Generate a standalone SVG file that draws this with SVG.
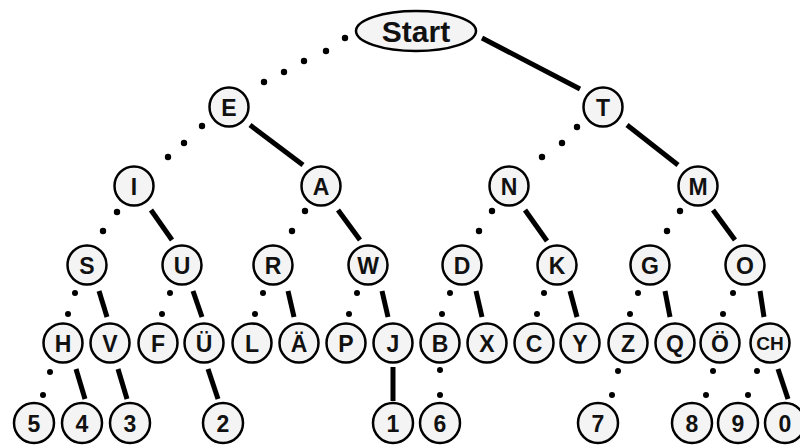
<svg xmlns="http://www.w3.org/2000/svg" width="800" height="445" viewBox="0 0 800 445">
<style>
.n{fill:#f4f4f4;stroke:#000;stroke-width:2.5}
.t{font-family:"Liberation Sans",Arial,sans-serif;font-weight:bold;font-size:23px;text-anchor:middle;fill:#111}
.t.s{font-size:19px}
.dah{stroke:#000;stroke-width:5;fill:none}
.dit{fill:#000}
</style>
<rect width="800" height="445" fill="#fff"/>
<g id="connectors">
<g class="dit">
<circle cx="345" cy="38" r="3.2"/><circle cx="326" cy="51" r="3.2"/><circle cx="304" cy="61" r="3.2"/><circle cx="284" cy="72" r="3.2"/><circle cx="264" cy="82" r="3.2"/>
<circle cx="202" cy="126" r="3.2"/><circle cx="184" cy="143" r="3.2"/><circle cx="168" cy="157" r="3.2"/>
<circle cx="577" cy="127" r="3.2"/><circle cx="562" cy="143" r="3.2"/><circle cx="542" cy="157" r="3.2"/>
<circle cx="117" cy="212" r="3.2"/><circle cx="103" cy="231" r="3.2"/>
<circle cx="305" cy="211" r="3.2"/><circle cx="292" cy="231" r="3.2"/>
<circle cx="492" cy="211" r="3.2"/><circle cx="479" cy="231" r="3.2"/>
<circle cx="680" cy="211" r="3.2"/><circle cx="667" cy="231" r="3.2"/>
<circle cx="75" cy="293" r="3"/><circle cx="68" cy="314" r="3"/>
<circle cx="170" cy="293" r="3"/><circle cx="162" cy="314" r="3"/>
<circle cx="263" cy="293" r="3"/><circle cx="255" cy="314" r="3"/>
<circle cx="357" cy="293" r="3"/><circle cx="349" cy="314" r="3"/>
<circle cx="450" cy="293" r="3"/><circle cx="442" cy="314" r="3"/>
<circle cx="544" cy="293" r="3"/><circle cx="537" cy="314" r="3"/>
<circle cx="638" cy="293" r="3"/><circle cx="630" cy="314" r="3"/>
<circle cx="733" cy="293" r="3"/><circle cx="723" cy="314" r="3"/>
<circle cx="50" cy="372" r="3"/><circle cx="43" cy="395" r="3"/>
<circle cx="440" cy="370" r="3"/><circle cx="440" cy="395" r="3"/>
<circle cx="618" cy="371" r="3"/><circle cx="612" cy="395" r="3"/>
<circle cx="713" cy="371" r="3"/><circle cx="706" cy="395" r="3"/>
<circle cx="757" cy="371" r="3"/><circle cx="748" cy="395" r="3"/>
</g>
<g class="dah">
<line x1="482" y1="38" x2="580" y2="89"/>
<line x1="250" y1="125" x2="303" y2="165"/>
<line x1="627" y1="125" x2="678" y2="165"/>
<line x1="151" y1="210" x2="172" y2="240"/>
<line x1="338" y1="210" x2="360" y2="240"/>
<line x1="525" y1="210" x2="547" y2="241"/>
<line x1="713" y1="210" x2="735" y2="240"/>
<line x1="99" y1="291" x2="107" y2="317"/>
<line x1="193" y1="291" x2="202" y2="317"/>
<line x1="288" y1="291" x2="294" y2="317"/>
<line x1="382" y1="291" x2="388" y2="317"/>
<line x1="476" y1="291" x2="482" y2="317"/>
<line x1="570" y1="291" x2="577" y2="317"/>
<line x1="665" y1="291" x2="670" y2="317"/>
<line x1="760" y1="291" x2="764" y2="317"/>
<line x1="76" y1="369" x2="85" y2="399"/>
<line x1="118" y1="369" x2="127" y2="399"/>
<line x1="208" y1="369" x2="218" y2="399"/>
<line x1="393" y1="367" x2="393" y2="401"/>
<line x1="778" y1="369" x2="788" y2="399"/>
</g>
</g>
<g id="node-start"><ellipse class="n" cx="416" cy="31" rx="60" ry="20"/><text class="t" x="416" y="42" style="font-size:30px">Start</text></g>
<g id="node-E"><circle class="n" cx="229" cy="107" r="19.5"/><text class="t" x="229" y="115.5">E</text></g>
<g id="node-T"><circle class="n" cx="603" cy="107" r="19.5"/><text class="t" x="603" y="115.5">T</text></g>
<g id="node-I"><circle class="n" cx="134" cy="186" r="19.5"/><text class="t" x="134" y="194.5">I</text></g>
<g id="node-A"><circle class="n" cx="321" cy="186" r="19.5"/><text class="t" x="321" y="194.5">A</text></g>
<g id="node-N"><circle class="n" cx="509" cy="186" r="19.5"/><text class="t" x="509" y="194.5">N</text></g>
<g id="node-M"><circle class="n" cx="698" cy="186" r="19.5"/><text class="t" x="698" y="194.5">M</text></g>
<g id="node-S"><circle class="n" cx="87" cy="265" r="19.5"/><text class="t" x="87" y="273.5">S</text></g>
<g id="node-U"><circle class="n" cx="182" cy="265" r="19.5"/><text class="t" x="182" y="273.5">U</text></g>
<g id="node-R"><circle class="n" cx="273" cy="265" r="19.5"/><text class="t" x="273" y="273.5">R</text></g>
<g id="node-W"><circle class="n" cx="368" cy="265" r="19.5"/><text class="t" x="368" y="273.5">W</text></g>
<g id="node-D"><circle class="n" cx="462" cy="265" r="19.5"/><text class="t" x="462" y="273.5">D</text></g>
<g id="node-K"><circle class="n" cx="557" cy="265" r="19.5"/><text class="t" x="557" y="273.5">K</text></g>
<g id="node-G"><circle class="n" cx="650" cy="265" r="19.5"/><text class="t" x="650" y="273.5">G</text></g>
<g id="node-O"><circle class="n" cx="745" cy="265" r="19.5"/><text class="t" x="745" y="273.5">O</text></g>
<g id="node-H"><circle class="n" cx="63" cy="343" r="19.5"/><text class="t" x="63" y="351.5">H</text></g>
<g id="node-V"><circle class="n" cx="110" cy="343" r="19.5"/><text class="t" x="110" y="351.5">V</text></g>
<g id="node-F"><circle class="n" cx="158" cy="343" r="19.5"/><text class="t" x="158" y="351.5">F</text></g>
<g id="node-UE"><circle class="n" cx="204" cy="343" r="19.5"/><text class="t" x="204" y="351.5">Ü</text></g>
<g id="node-L"><circle class="n" cx="252" cy="343" r="19.5"/><text class="t" x="252" y="351.5">L</text></g>
<g id="node-AE"><circle class="n" cx="299" cy="343" r="19.5"/><text class="t" x="299" y="351.5">Ä</text></g>
<g id="node-P"><circle class="n" cx="346" cy="343" r="19.5"/><text class="t" x="346" y="351.5">P</text></g>
<g id="node-J"><circle class="n" cx="393" cy="343" r="19.5"/><text class="t" x="393" y="351.5">J</text></g>
<g id="node-B"><circle class="n" cx="440" cy="343" r="19.5"/><text class="t" x="440" y="351.5">B</text></g>
<g id="node-X"><circle class="n" cx="487" cy="343" r="19.5"/><text class="t" x="487" y="351.5">X</text></g>
<g id="node-C"><circle class="n" cx="534" cy="343" r="19.5"/><text class="t" x="534" y="351.5">C</text></g>
<g id="node-Y"><circle class="n" cx="580" cy="343" r="19.5"/><text class="t" x="580" y="351.5">Y</text></g>
<g id="node-Z"><circle class="n" cx="628" cy="343" r="19.5"/><text class="t" x="628" y="351.5">Z</text></g>
<g id="node-Q"><circle class="n" cx="675" cy="343" r="19.5"/><text class="t" x="675" y="351.5">Q</text></g>
<g id="node-OE"><circle class="n" cx="720" cy="343" r="19.5"/><text class="t" x="720" y="351.5">Ö</text></g>
<g id="node-CH"><circle class="n" cx="770" cy="343" r="19.5"/><text class="t s" x="770" y="350">CH</text></g>
<g id="node-5"><circle class="n" cx="34" cy="423" r="20"/><text class="t" x="34" y="431.5">5</text></g>
<g id="node-4"><circle class="n" cx="82" cy="423" r="20"/><text class="t" x="82" y="431.5">4</text></g>
<g id="node-3"><circle class="n" cx="130" cy="423" r="20"/><text class="t" x="130" y="431.5">3</text></g>
<g id="node-2"><circle class="n" cx="223" cy="423" r="20"/><text class="t" x="223" y="431.5">2</text></g>
<g id="node-1"><circle class="n" cx="393" cy="423" r="20"/><text class="t" x="393" y="431.5">1</text></g>
<g id="node-6"><circle class="n" cx="440" cy="423" r="20"/><text class="t" x="440" y="431.5">6</text></g>
<g id="node-7"><circle class="n" cx="598" cy="423" r="20"/><text class="t" x="598" y="431.5">7</text></g>
<g id="node-8"><circle class="n" cx="692" cy="423" r="20"/><text class="t" x="692" y="431.5">8</text></g>
<g id="node-9"><circle class="n" cx="738" cy="423" r="20"/><text class="t" x="738" y="431.5">9</text></g>
<g id="node-0"><circle class="n" cx="785" cy="423" r="20"/><text class="t" x="785" y="431.5">0</text></g>
</svg>
